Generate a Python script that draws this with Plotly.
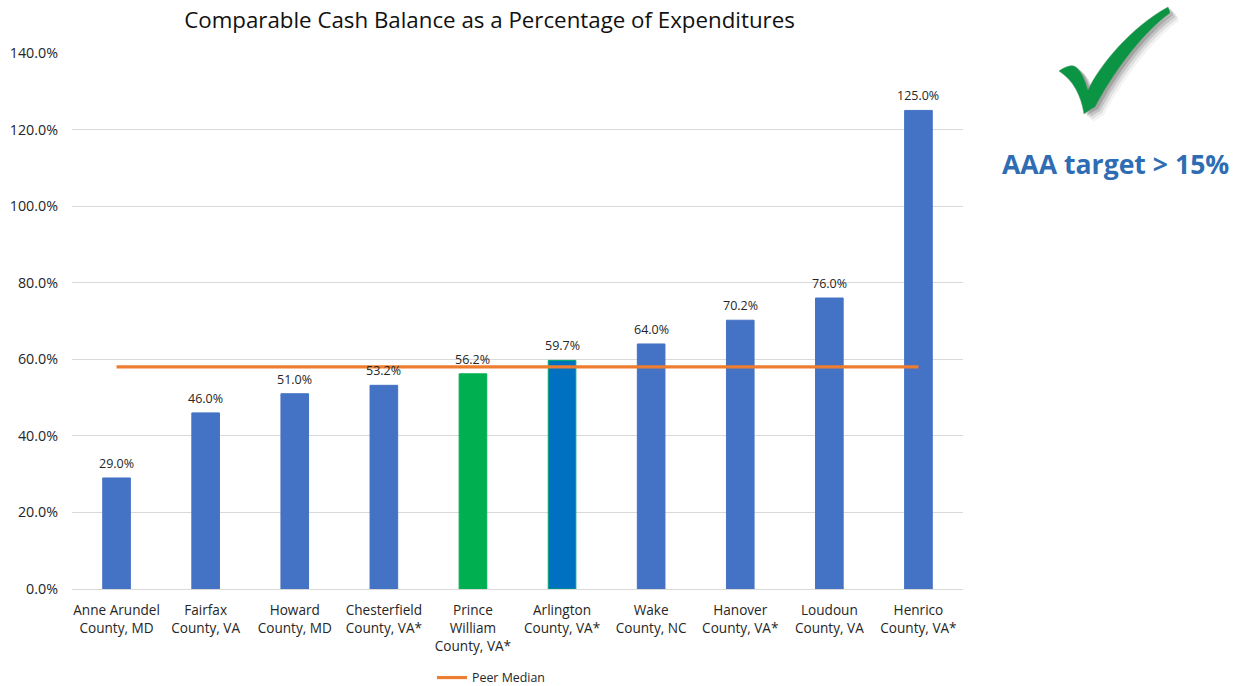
import plotly.graph_objects as go

categories = ["Anne Arundel<br>County, MD", "Fairfax<br>County, VA", "Howard<br>County, MD",
              "Chesterfield<br>County, VA*", "Prince<br>William<br>County, VA*", "Arlington<br>County, VA*",
              "Wake<br>County, NC", "Hanover<br>County, VA*", "Loudoun<br>County, VA", "Henrico<br>County, VA*"]
cash_pct = [29.0, 46.0, 51.0, 53.2, 56.2, 59.7, 64.0, 70.2, 76.0, 125.0]
peer_median = [58.0] * 10
bar_colors = ["#4472C4"] * 4 + ["#00B050", "#0070C0"] + ["#4472C4"] * 4
bar_edges = ["#4472C4"] * 4 + ["#00B050", "#00A86B"] + ["#4472C4"] * 4
tick_vals = [0, 20, 40, 60, 80, 100, 120, 140]
tick_text = ["0.0%", "20.0%", "40.0%", "60.0%", "80.0%", "100.0%", "120.0%", "140.0%"]

W, H = 1240, 686
L, R, T, B = 72, 963, 53, 589
FONT = "Open Sans"
TEXT = "#262626"

def path(points, dx=0, dy=0):
    def p(pt):
        return f"{(pt[0] + dx - L) / (R - L):.5f},{(B - pt[1] - dy) / (B - T):.5f}"
    d = f"M{p(points[0])}"
    for i in range(1, len(points), 3):
        d += f" C{p(points[i])} {p(points[i+1])} {p(points[i+2])}"
    return d + " Z"

check = [(1059, 71), (1063, 68), (1069, 65), (1074, 66),
         (1080, 68), (1085, 80), (1088, 90),
         (1100, 65), (1130, 28), (1168, 7),
         (1169, 9), (1170, 11), (1170, 13),
         (1140, 35), (1112, 75), (1095, 107),
         (1091, 109), (1088, 111), (1084, 114),
         (1081, 95), (1073, 80), (1059, 71)]

shapes = []
for off, alpha in [(9, 0.06), (7, 0.10), (5, 0.16), (3, 0.22)]:
    shapes.append(dict(type="path", xref="paper", yref="paper", path=path(check, off, off - 1),
                       fillcolor=f"rgba(50,50,50,{alpha})", line=dict(width=0), layer="above"))
shapes.append(dict(type="path", xref="paper", yref="paper", path=path(check),
                   fillcolor="#0B9444", line=dict(width=0.5, color="#5E9E6E"), layer="above"))

fig = go.Figure()
fig.add_trace(go.Bar(x=categories, y=cash_pct, width=0.31, showlegend=False,
                     marker=dict(color=bar_colors, line=dict(color=bar_edges, width=1))))
fig.add_trace(go.Scatter(x=categories, y=peer_median, mode="lines", name="Peer Median",
                         line=dict(color="#ED7D31", width=3.2)))

annotations = [dict(text=f"{v:.1f}%", x=c, y=v, xref="x", yref="y", yshift=14.5,
                    xanchor="center", yanchor="middle", showarrow=False,
                    font=dict(family=FONT, size=12.5, color=TEXT))
               for c, v in zip(categories, cash_pct)]
annotations.append(dict(text="<b>AAA target &gt; 15%</b>", xref="paper", yref="paper",
                        x=(1115 - L) / (R - L), y=(B - 164) / (B - T), xanchor="center", yanchor="middle",
                        showarrow=False, font=dict(family=FONT, size=26.6, color="#2E6DB4")))

fig.update_layout(
    width=W, height=H, autosize=False,
    margin=dict(l=L, r=W - R, t=T, b=H - B, pad=0, autoexpand=False),
    paper_bgcolor="white", plot_bgcolor="white",
    font=dict(family=FONT, color=TEXT, size=13),
    title=dict(text="Comparable Cash Balance as a Percentage of Expenditures",
               font=dict(family=FONT, size=22.3, color="#111111"),
               x=489.5 / W, xanchor="center", y=1 - 20 / H, yanchor="middle"),
    xaxis=dict(tickfont=dict(family=FONT, size=13.6), showline=True, linecolor="#D9D9D9",
               linewidth=1, ticks="", tickangle=0, showgrid=False, fixedrange=True,
               automargin=False, ticklabelstandoff=9),
    yaxis=dict(range=[0, 140], tickvals=tick_vals, ticktext=tick_text,
               tickfont=dict(family=FONT, size=14.3), gridcolor="#D9D9D9", gridwidth=1,
               zeroline=False, showline=False, ticks="", fixedrange=True,
               automargin=False, ticklabelstandoff=13),
    legend=dict(orientation="h", x=(491 - L) / (R - L), xanchor="center",
                y=(B - 678) / (B - T), yanchor="middle",
                font=dict(family=FONT, size=12.4), itemwidth=30, bgcolor="rgba(0,0,0,0)"),
    shapes=shapes,
    annotations=annotations,
)
fig.write_html("out.html", config=dict(displayModeBar=False),
               post_script="document.body.style.margin='0';")
